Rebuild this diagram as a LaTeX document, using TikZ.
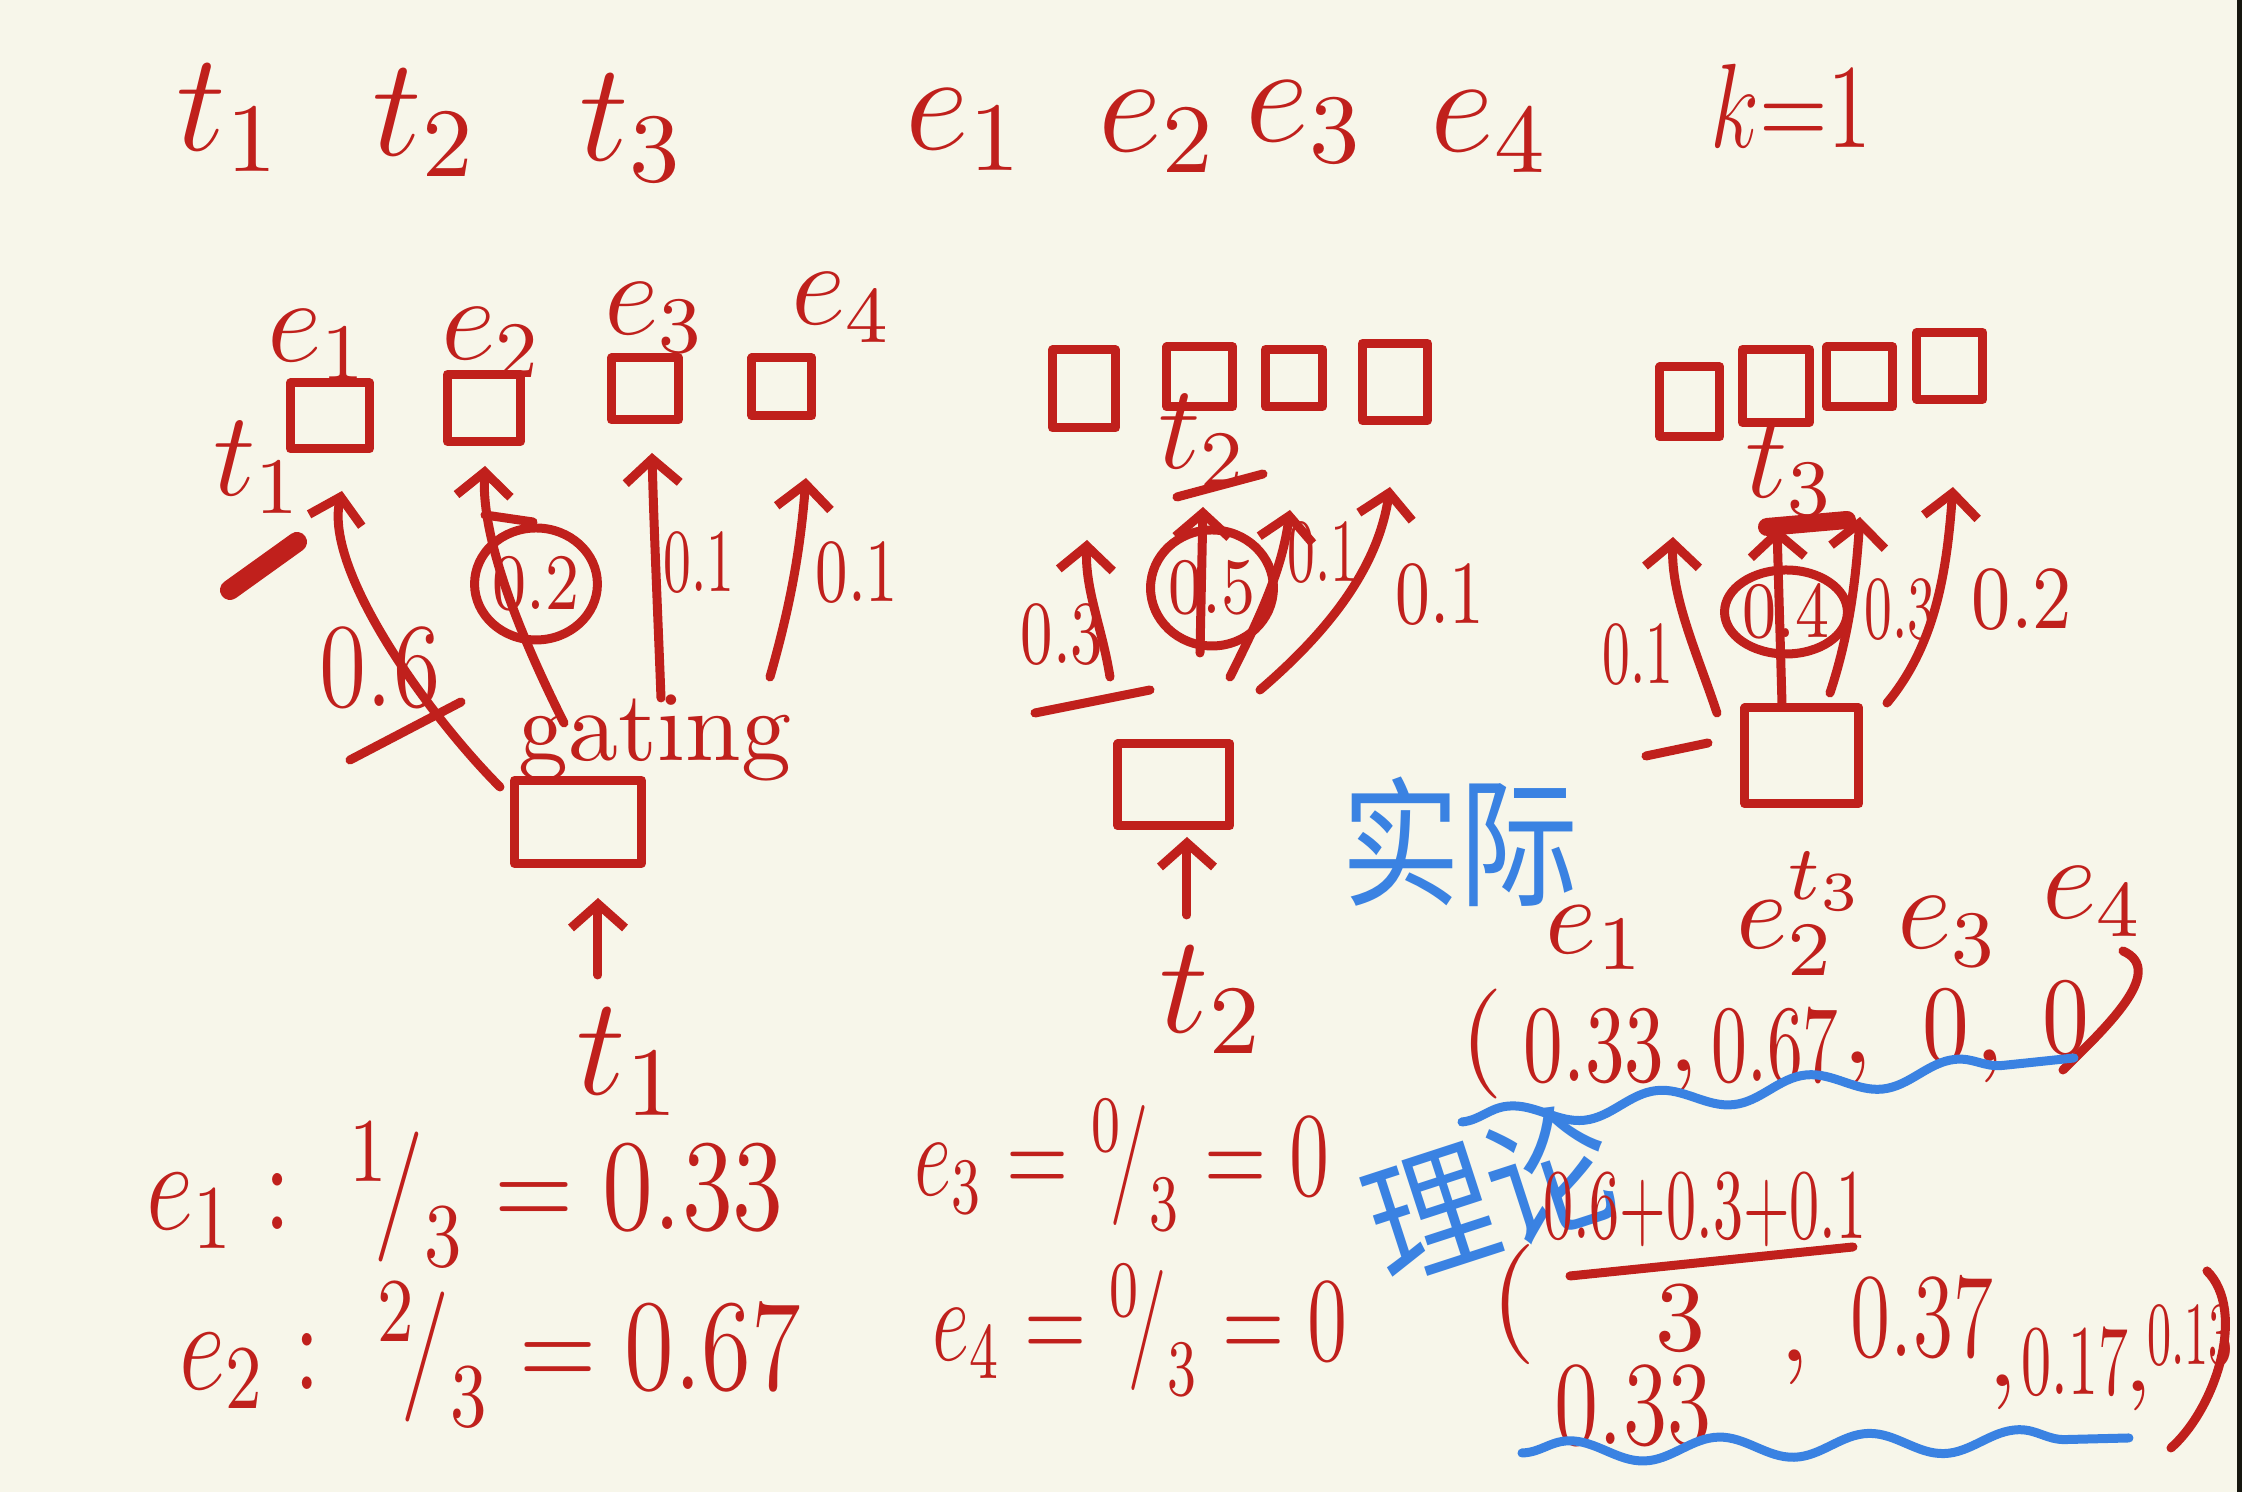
\RequirePackage{fix-cm}
\documentclass[tikz,border=0pt]{standalone}
\usepackage{fontspec}
\newfontfamily\cjk{Noto Sans CJK SC}
\usetikzlibrary{arrows.meta,shapes.geometric,decorations.pathmorphing}
\definecolor{ink}{HTML}{C0201C}
\definecolor{bink}{HTML}{3A82E2}
\definecolor{paper}{HTML}{F7F6EA}
\definecolor{rim}{HTML}{16160F}
\newcommand\hw[2][0.75]{\scalebox{#1}[1]{#2}}
\tikzset{
  stroke/.style={draw=ink, line width=0.9pt, line cap=round, line join=round},
  bstroke/.style={draw=bink, line width=0.9pt, line cap=round, line join=round},
  exbox/.style={stroke, rectangle, inner sep=0pt},
  gatebox/.style={stroke, rectangle, inner sep=0pt},
  arr/.style={stroke, -{Straight Barb[length=2.4pt,width=5.4pt]}},
  lab/.style={text=ink, inner sep=0pt},
  sz15/.style={font=\fontsize{14}{16}\selectfont},
  sz13/.style={font=\fontsize{13}{15}\selectfont},
  sz12/.style={font=\fontsize{12}{14}\selectfont},
  sz11/.style={font=\fontsize{11}{13}\selectfont},
  sz10/.style={font=\fontsize{10}{12}\selectfont},
  sz9/.style={font=\fontsize{9}{11}\selectfont},
  circ/.style={stroke, ellipse, inner sep=0pt, text=ink, font=\fontsize{8}{10}\selectfont},
  cn/.style={text=bink, inner sep=0pt, font=\cjk\fontsize{14}{16}\selectfont},
  wave/.style={bstroke, decorate, decoration={snake, amplitude=1.1pt, segment length=15pt}},
}
\begin{document}
\begin{tikzpicture}[x=0.1pt, y=-0.1pt]
\fill[paper] (0,0) rectangle (2242,1492);
\useasboundingbox (0,0) rectangle (2242,1492);
\fill[rim] (2237,0) rectangle (2242,1492);

% ---------- top row ----------
\node[lab, sz15] (tt1) at (229,118) {$t_1$};
\node[lab, sz15] (tt2) at (425,123) {$t_2$};
\node[lab, sz15] (tt3) at (632,128) {$t_3$};
\node[lab, sz15] (te1) at (965,130) {$e_1$};
\node[lab, sz15] (te2) at (1158,132) {$e_2$};
\node[lab, sz15] (te3) at (1305,122) {$e_3$};
\node[lab, sz15] (te4) at (1490,132) {$e_4$};
\node[lab, sz12] (tk) at (1791,106) {\hw{$k{=}1$}};

% ---------- diagram 1 (t1) ----------
\node[exbox, minimum width=7.9pt, minimum height=6.6pt] (a1) at (330,416) {};
\node[exbox, minimum width=7.3pt, minimum height=6.7pt] (a2) at (484,408) {};
\node[exbox, minimum width=6.7pt, minimum height=6.2pt] (a3) at (645,389) {};
\node[exbox, minimum width=6.0pt, minimum height=5.8pt] (a4) at (782,387) {};
\node[lab, sz12] (la1) at (318,345) {$e_1$};
\node[lab, sz12] (la2) at (492,343) {$e_2$};
\node[lab, sz12] (la3) at (655,318) {$e_3$};
\node[lab, sz12] (la4) at (842,308) {$e_4$};
\node[lab, sz12] (lt1) at (258,468) {$t_1$};
\node[gatebox, minimum width=12.7pt, minimum height=8.3pt] (g1) at (578,822) {};
\node[lab, sz10] (gtxt) at (655,738) {gating};

\coordinate (s11) at (500,787); \coordinate (h11) at (342,491);
\coordinate (s12) at (564,723); \coordinate (h12) at (485,466);
\coordinate (s13) at (661,698); \coordinate (h13) at (652,453);
\coordinate (s14) at (770,677); \coordinate (h14) at (806,478);
\draw[arr] (s11) .. controls +(-70,-70) and +(-18,80) .. (h11);
\draw[arr] (s12) .. controls +(-35,-70) and +(-4,80) .. (h12);
\draw[arr] (s13) .. controls +(-3,-80) and +(2,80) .. (h13);
\draw[arr] (s14) .. controls +(20,-70) and +(-6,75) .. (h14);

\node[lab, sz12] (v11) at (380,668) {\hw[0.8]{$0.6$}};
\coordinate (k1a) at (350,760); \coordinate (k1b) at (461,702);
\draw[stroke] (k1a) -- (k1b);
\coordinate (d1a) at (230,590); \coordinate (d1b) at (297,542);
\draw[stroke, line width=2pt] (d1a) -- (d1b);
\node[circ, minimum width=12pt, minimum height=11.2pt] (v12) at (536,584) {\hw[0.8]{$0.2$}};
\coordinate (c1a) at (485,515); \coordinate (c1b) at (533,522);
\draw[stroke] (c1a) -- (c1b);
\node[lab, sz9] (v13) at (699,563) {\hw[0.6]{$0.1$}};
\node[lab, sz9] (v14) at (857,573) {\hw[0.7]{$0.1$}};

\coordinate (u1) at (598,975); \coordinate (u1h) at (598,898);
\draw[arr] (u1) -- (u1h);
\node[lab, sz15] (in1) at (629,1062) {$t_1$};

% ---------- diagram 2 (t2) ----------
\node[exbox, minimum width=6.3pt, minimum height=7.8pt] (b1) at (1084,389) {};
\node[exbox, minimum width=6.6pt, minimum height=6.0pt] (b2) at (1200,377) {};
\node[exbox, minimum width=5.7pt, minimum height=5.7pt] (b3) at (1294,378) {};
\node[exbox, minimum width=6.5pt, minimum height=7.7pt] (b4) at (1395,382) {};
\node[lab, sz12] (lt2) at (1203,441) {$t_2$};
\coordinate (d2a) at (1177,497); \coordinate (d2b) at (1263,474);
\draw[stroke] (d2a) -- (d2b);
\node[gatebox, minimum width=11.2pt, minimum height=8.2pt] (g2) at (1174,785) {};

\coordinate (s21) at (1110,677); \coordinate (h21) at (1087,540);
\coordinate (s22) at (1200,653); \coordinate (h22) at (1203,507);
\coordinate (s23) at (1230,677); \coordinate (h23) at (1290,510);
\coordinate (s24) at (1260,690); \coordinate (h24) at (1390,487);
\draw[arr] (s21) .. controls +(-8,-50) and +(-2,50) .. (h21);
\draw[arr] (s22) -- (h22);
\draw[arr] (s23) .. controls +(30,-60) and +(-8,60) .. (h23);
\draw[arr] (s24) .. controls +(70,-60) and +(-12,80) .. (h24);
\node[lab, sz9] (v21) at (1062,635) {\hw[0.7]{$0.3$}};
\coordinate (d3a) at (1035,713); \coordinate (d3b) at (1150,690);
\draw[stroke] (d3a) -- (d3b);
\node[circ, minimum width=11pt, minimum height=11.6pt] (v22) at (1212,588) {\hw[0.8]{$0.5$}};
\node[lab, sz9] (v23) at (1323,553) {\hw[0.6]{$0.1$}};
\node[lab, sz9] (v24) at (1440,595) {\hw[0.75]{$0.1$}};

\coordinate (u2) at (1187,915); \coordinate (u2h) at (1187,837);
\draw[arr] (u2) -- (u2h);
\node[lab, sz15] (in2) at (1212,1000) {$t_2$};

% ---------- diagram 3 (t3) ----------
\node[exbox, minimum width=6.0pt, minimum height=7.0pt] (c1) at (1690,402) {};
\node[exbox, minimum width=6.7pt, minimum height=7.3pt] (c2) at (1776,386) {};
\node[exbox, minimum width=6.6pt, minimum height=6.0pt] (c3) at (1860,377) {};
\node[exbox, minimum width=6.6pt, minimum height=6.7pt] (c4) at (1950,366) {};
\node[lab, sz12] (lt3) at (1790,470) {$t_3$};
\coordinate (d4a) at (1767,527); \coordinate (d4b) at (1847,520);
\draw[stroke, line width=1.8pt] (d4a) -- (d4b);
\node[gatebox, minimum width=11.4pt, minimum height=9.6pt] (g3) at (1802,756) {};
\coordinate (d5a) at (1646,756); \coordinate (d5b) at (1708,743);
\draw[stroke] (d5a) -- (d5b);

\coordinate (s31) at (1717,713); \coordinate (h31) at (1673,537);
\coordinate (s32) at (1782,703); \coordinate (h32) at (1777,527);
\coordinate (s33) at (1830,693); \coordinate (h33) at (1860,517);
\coordinate (s34) at (1887,703); \coordinate (h34) at (1953,487);
\draw[arr] (s31) .. controls +(-20,-60) and +(-2,60) .. (h31);
\draw[arr] (s32) -- (h32);
\draw[arr] (s33) .. controls +(20,-60) and +(-4,60) .. (h33);
\draw[arr] (s34) .. controls +(50,-60) and +(-6,80) .. (h34);
\node[lab, sz9] (v31) at (1638,655) {\hw[0.6]{$0.1$}};
\node[circ, minimum width=10.6pt, minimum height=8.4pt] (v32) at (1786,612) {\hw[0.8]{$0.4$}};
\node[lab, sz9] (v33) at (1900,610) {\hw[0.6]{$0.3$}};
\node[lab, sz9] (v34) at (2022,600) {\hw[0.85]{$0.2$}};

% ---------- bottom-left counts ----------
\node[lab, sz13] (q1) at (465,1195) {\hw[0.8]{$e_1 :\; {}^{1}\!\big/_{3} = 0.33$}};
\node[lab, sz13] (q2) at (490,1355) {\hw[0.78]{$e_2 :\; {}^{2}\!\big/_{3} = 0.67$}};
\node[lab, sz12] (q3) at (1122,1165) {\hw[0.68]{$e_3 = {}^{0}\!\big/_{3} = 0$}};
\node[lab, sz12] (q4) at (1140,1330) {\hw[0.68]{$e_4 = {}^{0}\!\big/_{3} = 0$}};

% ---------- actual ----------
\node[cn] (shiji) at (1460,842) {\hw[0.85]{实际}};
\node[lab, sz11] (r1) at (1596,938) {$e_1$};
\node[lab, sz11] (r2) at (1802,914) {$e_2^{t_3}$};
\node[lab, sz12] (r3) at (1948,932) {$e_3$};
\node[lab, sz12] (r4) at (2093,902) {$e_4$};
\node[lab, sz11] (ra0) at (1482,1044) {$($};
\node[lab, sz11] (ra1) at (1594,1046) {\hw[0.72]{$0.33$}};
\node[lab, sz11] (rc1) at (1684,1076) {$,$};
\node[lab, sz11] (ra2) at (1775,1046) {\hw[0.65]{$0.67$}};
\node[lab, sz11] (rc2) at (1858,1068) {$,$};
\node[lab, sz11] (ra3) at (1946,1026) {\hw[0.85]{$0$}};
\node[lab, sz11] (rc3) at (1990,1066) {$,$};
\node[lab, sz11] (ra4) at (2066,1018) {\hw[0.85]{$0$}};
\coordinate (p1a) at (2123,951); \coordinate (p1b) at (2063,1070);
\draw[stroke] (p1a) .. controls +(45,20) and +(40,-40) .. (p1b);
\coordinate (w1a) at (1462,1122); \coordinate (w1b) at (2074,1058);
\draw[wave] (w1a) -- (w1b);

% ---------- theory ----------
\node[cn, rotate=18] (lilun) at (1490,1192) {\hw[0.9]{理论}};
\node[lab, sz10] (num) at (1705,1210) {\hw[0.6]{$0.6{+}0.3{+}0.1$}};
\coordinate (fb1) at (1570,1276); \coordinate (fb2) at (1853,1247);
\draw[stroke] (fb1) -- (fb2);
\node[lab, sz10] (den) at (1681,1318) {$3$};
\node[lab, sz12] (lp) at (1513,1305) {$($};
\node[lab, sz12] (t1v) at (1633,1406) {\hw[0.75]{$0.33$}};
\node[lab, sz12] (cm1) at (1795,1367) {$,$};
\node[lab, sz12] (t2v) at (1922,1318) {\hw[0.68]{$0.37$}};
\node[lab, sz12] (cm2) at (2003,1392) {$,$};
\node[lab, sz10] (t3v) at (2075,1362) {\hw[0.6]{$0.17$}};
\node[lab, sz10] (cm3) at (2138,1396) {$,$};
\node[lab, sz9] (t4v) at (2190,1336) {\hw[0.52]{$0.13$}};
\coordinate (p2a) at (2207,1271); \coordinate (p2b) at (2171,1448);
\draw[stroke] (p2a) .. controls +(40,40) and +(45,-40) .. (p2b);
\coordinate (w2a) at (1522,1453); \coordinate (w2b) at (2129,1438);
\draw[wave] (w2a) -- (w2b);
\end{tikzpicture}
\end{document}
